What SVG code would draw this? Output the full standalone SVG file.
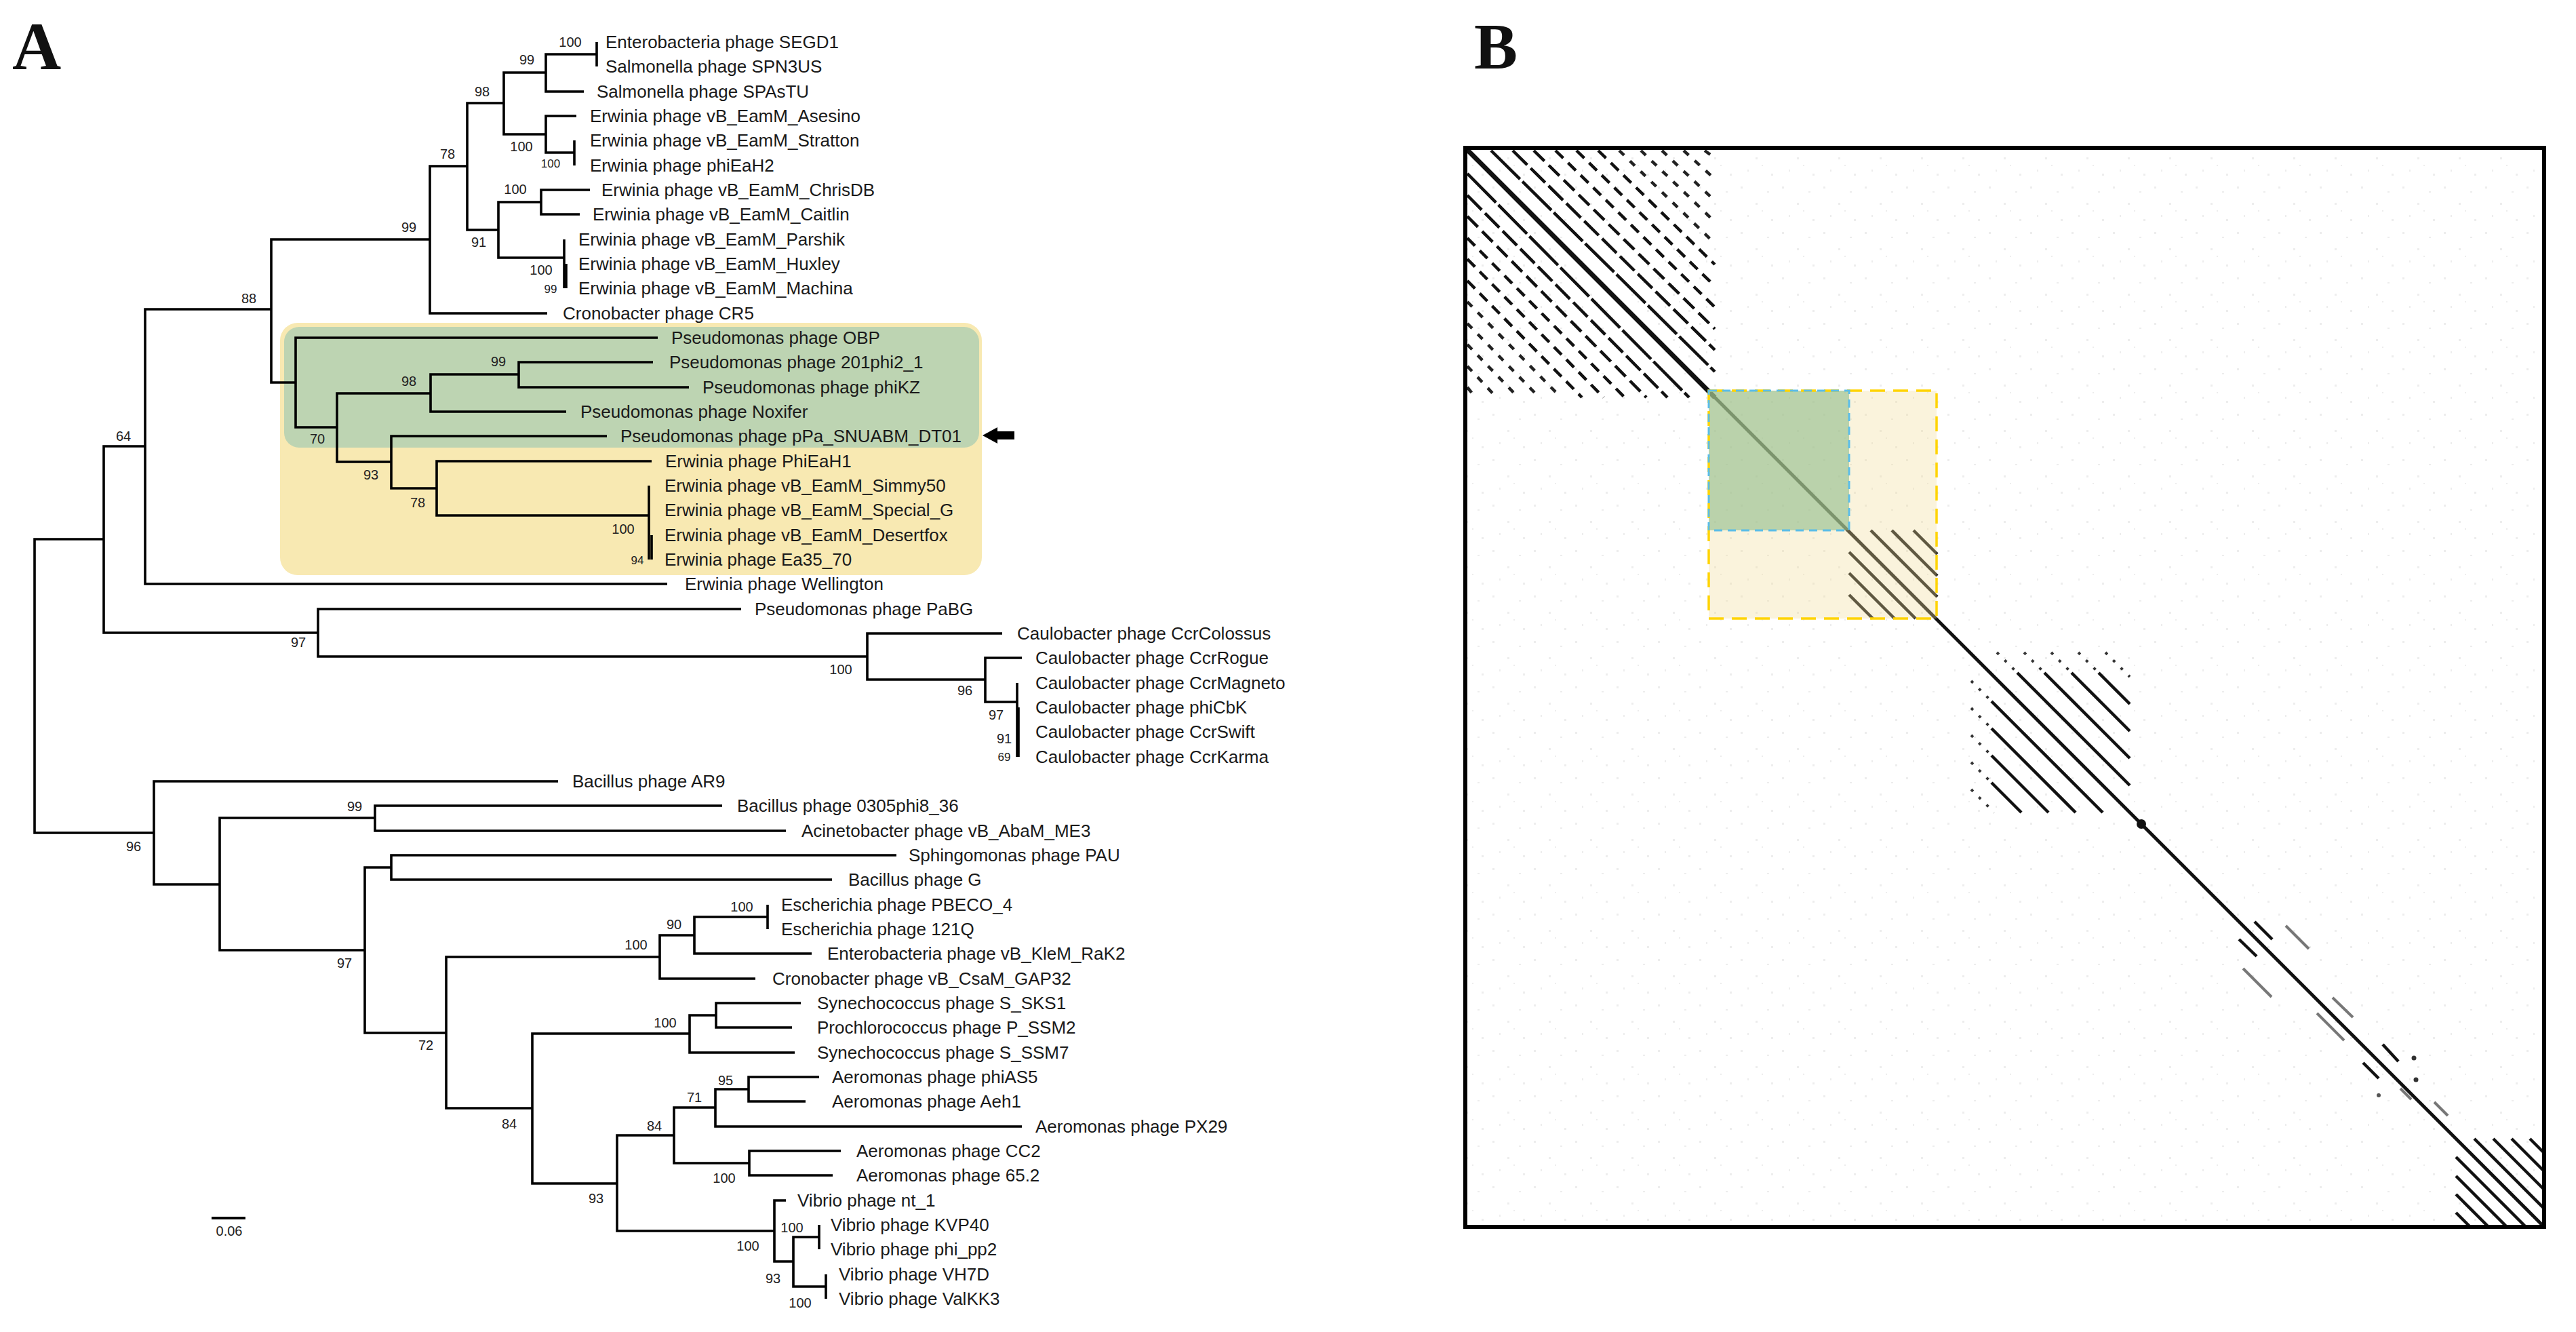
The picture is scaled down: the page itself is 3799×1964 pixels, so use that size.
<svg xmlns="http://www.w3.org/2000/svg" width="3799" height="1964" viewBox="0 0 3799 1964">
<style>
.br{stroke:#000;stroke-width:3.6;fill:none;stroke-linejoin:miter;stroke-linecap:butt}
.tx{font-family:"Liberation Sans",Arial,sans-serif;font-size:26px;fill:#1a1a1a}
.bs{font-family:"Liberation Sans",Arial,sans-serif;font-size:20px;fill:#222;text-anchor:middle}
.sm{font-size:17px}
.lbl{font-family:"Liberation Serif","Times New Roman",serif;font-weight:bold;font-size:100px;fill:#111}
.dp{stroke:#111;fill:none;stroke-width:4.5}
.k1{stroke-dasharray:60 5}
.k2{stroke-dasharray:30 7}
.k3{stroke-dasharray:22 9}
.k4{stroke-dasharray:16 10}
.k5{stroke-dasharray:10 12;stroke:#222}
.dot{stroke-dasharray:4 12;stroke:#333;stroke-width:4}
.fa{stroke:#777;stroke-width:4}
</style>
<defs>
<pattern id="spk" width="61" height="67" patternUnits="userSpaceOnUse">
<rect x="5" y="7" width="3" height="3" fill="#999"/>
<rect x="27" y="31" width="3" height="3" fill="#999"/>
<rect x="44" y="14" width="3" height="2" fill="#999"/>
<rect x="15" y="49" width="2" height="3" fill="#999"/>
<rect x="50" y="55" width="3" height="3" fill="#999"/>
<rect x="36" y="42" width="2" height="2" fill="#999"/>
</pattern>
</defs>
<rect width="3799" height="1964" fill="#fff"/>

<!-- Panel A -->
<text class="lbl" x="18" y="102">A</text>

<g id="highlight">
<rect x="413" y="476" width="1035" height="372" rx="26" fill="#F8E9B2"/>
<rect x="419" y="482" width="1025" height="178" rx="22" fill="#BDD4B2"/>
</g>

<g id="connectors">
<path class="br" d="M880,62 V98"/>
<path class="br" d="M880,80 H805 V135 H861"/>
<path class="br" d="M847,207 V244"/>
<path class="br" d="M850,171 H805 V225 H847"/>
<path class="br" d="M805,107 H743 V198 H805"/>
<path class="br" d="M870,280 H798 V316 H855"/>
<path class="br" d="M832,353 V425"/>
<path class="br" d="M835,389 V425"/>
<path class="br" d="M798,298 H735 V380 H832"/>
<path class="br" d="M743,152 H689 V339 H735"/>
<path class="br" d="M689,245 H634 V462 H807"/>
<path class="br" d="M634,353 H400 V564 H436"/>
<path class="br" d="M400,456 H214 V861 H984"/>
<path class="br" d="M963,534 H765 V571 H1016"/>
<path class="br" d="M765,552 H635 V607 H835"/>
<path class="br" d="M957,716 V825"/>
<path class="br" d="M961,789 V825"/>
<path class="br" d="M961,680 H644 V760 H957"/>
<path class="br" d="M895,643 H577 V720 H644"/>
<path class="br" d="M635,580 H497 V681 H577"/>
<path class="br" d="M970,498 H436 V630 H497"/>
<path class="br" d="M1500,1007 V1116"/>
<path class="br" d="M1502,1043 V1116"/>
<path class="br" d="M1507,970 H1453 V1035 H1500"/>
<path class="br" d="M1478,934 H1279 V1002 H1453"/>
<path class="br" d="M1093,898 H469 V968 H1279"/>
<path class="br" d="M214,658 H153 V933 H469"/>
<path class="br" d="M153,795 H51 V1228 H227"/>
<path class="br" d="M823,1152 H227 V1304 H324"/>
<path class="br" d="M553,1206 H324 V1401 H538"/>
<path class="br" d="M1065,1188 H553 V1225 H1159"/>
<path class="br" d="M577,1279 H538 V1523 H658"/>
<path class="br" d="M1322,1261 H577 V1297 H1227"/>
<path class="br" d="M973,1411 H658 V1634 H785"/>
<path class="br" d="M1024,1379 H973 V1443 H1114"/>
<path class="br" d="M1132,1352 H1024 V1406 H1197"/>
<path class="br" d="M1132,1334 V1370"/>
<path class="br" d="M1017,1524 H785 V1745 H910"/>
<path class="br" d="M1056,1497 H1017 V1552 H1172"/>
<path class="br" d="M1181,1479 H1056 V1515 H1168"/>
<path class="br" d="M994,1674 H910 V1815 H1142"/>
<path class="br" d="M1055,1633 H994 V1715 H1105"/>
<path class="br" d="M1104,1606 H1055 V1661 H1507"/>
<path class="br" d="M1208,1588 H1104 V1624 H1188"/>
<path class="br" d="M1240,1697 H1105 V1733 H1228"/>
<path class="br" d="M1159,1770 H1142 V1860 H1170"/>
<path class="br" d="M1208,1824 H1170 V1897 H1218"/>
<path class="br" d="M1208,1806 V1842"/>
<path class="br" d="M1218,1879 V1915"/>
<path class="br" d="M312,1796 H362" style="stroke-width:4"/>
</g>

<g id="taxa">
<g id="t01"><text class="tx" x="893" y="71">Enterobacteria phage SEGD1</text></g>
<g id="t02"><text class="tx" x="893" y="107">Salmonella phage SPN3US</text></g>
<g id="t03"><text class="tx" x="880" y="144">Salmonella phage SPAsTU</text></g>
<g id="t04"><text class="tx" x="870" y="180">Erwinia phage vB_EamM_Asesino</text></g>
<g id="t05"><text class="tx" x="870" y="216">Erwinia phage vB_EamM_Stratton</text></g>
<g id="t06"><text class="tx" x="870" y="253">Erwinia phage phiEaH2</text></g>
<g id="t07"><text class="tx" x="887" y="289">Erwinia phage vB_EamM_ChrisDB</text></g>
<g id="t08"><text class="tx" x="874" y="325">Erwinia phage vB_EamM_Caitlin</text></g>
<g id="t09"><text class="tx" x="853" y="362">Erwinia phage vB_EamM_Parshik</text></g>
<g id="t10"><text class="tx" x="853" y="398">Erwinia phage vB_EamM_Huxley</text></g>
<g id="t11"><text class="tx" x="853" y="434">Erwinia phage vB_EamM_Machina</text></g>
<g id="t12"><text class="tx" x="830" y="471">Cronobacter phage CR5</text></g>
<g id="t13"><text class="tx" x="990" y="507">Pseudomonas phage OBP</text></g>
<g id="t14"><text class="tx" x="987" y="543">Pseudomonas phage 201phi2_1</text></g>
<g id="t15"><text class="tx" x="1036" y="580">Pseudomonas phage phiKZ</text></g>
<g id="t16"><text class="tx" x="856" y="616">Pseudomonas phage Noxifer</text></g>
<g id="t17"><text class="tx" x="915" y="652">Pseudomonas phage pPa_SNUABM_DT01</text></g>
<g id="t18"><text class="tx" x="981" y="689">Erwinia phage PhiEaH1</text></g>
<g id="t19"><text class="tx" x="980" y="725">Erwinia phage vB_EamM_Simmy50</text></g>
<g id="t20"><text class="tx" x="980" y="761">Erwinia phage vB_EamM_Special_G</text></g>
<g id="t21"><text class="tx" x="980" y="798">Erwinia phage vB_EamM_Desertfox</text></g>
<g id="t22"><text class="tx" x="980" y="834">Erwinia phage Ea35_70</text></g>
<g id="t23"><text class="tx" x="1010" y="870">Erwinia phage Wellington</text></g>
<g id="t24"><text class="tx" x="1113" y="907">Pseudomonas phage PaBG</text></g>
<g id="t25"><text class="tx" x="1500" y="943">Caulobacter phage CcrColossus</text></g>
<g id="t26"><text class="tx" x="1527" y="979">Caulobacter phage CcrRogue</text></g>
<g id="t27"><text class="tx" x="1527" y="1016">Caulobacter phage CcrMagneto</text></g>
<g id="t28"><text class="tx" x="1527" y="1052">Caulobacter phage phiCbK</text></g>
<g id="t29"><text class="tx" x="1527" y="1088">Caulobacter phage CcrSwift</text></g>
<g id="t30"><text class="tx" x="1527" y="1125">Caulobacter phage CcrKarma</text></g>
<g id="t31"><text class="tx" x="844" y="1161">Bacillus phage AR9</text></g>
<g id="t32"><text class="tx" x="1087" y="1197">Bacillus phage 0305phi8_36</text></g>
<g id="t33"><text class="tx" x="1182" y="1234">Acinetobacter phage vB_AbaM_ME3</text></g>
<g id="t34"><text class="tx" x="1340" y="1270">Sphingomonas phage PAU</text></g>
<g id="t35"><text class="tx" x="1251" y="1306">Bacillus phage G</text></g>
<g id="t36"><text class="tx" x="1152" y="1343">Escherichia phage PBECO_4</text></g>
<g id="t37"><text class="tx" x="1152" y="1379">Escherichia phage 121Q</text></g>
<g id="t38"><text class="tx" x="1220" y="1415">Enterobacteria phage vB_KleM_RaK2</text></g>
<g id="t39"><text class="tx" x="1139" y="1452">Cronobacter phage vB_CsaM_GAP32</text></g>
<g id="t40"><text class="tx" x="1205" y="1488">Synechococcus phage S_SKS1</text></g>
<g id="t41"><text class="tx" x="1205" y="1524">Prochlorococcus phage P_SSM2</text></g>
<g id="t42"><text class="tx" x="1205" y="1561">Synechococcus phage S_SSM7</text></g>
<g id="t43"><text class="tx" x="1227" y="1597">Aeromonas phage phiAS5</text></g>
<g id="t44"><text class="tx" x="1227" y="1633">Aeromonas phage Aeh1</text></g>
<g id="t45"><text class="tx" x="1527" y="1670">Aeromonas phage PX29</text></g>
<g id="t46"><text class="tx" x="1263" y="1706">Aeromonas phage CC2</text></g>
<g id="t47"><text class="tx" x="1263" y="1742">Aeromonas phage 65.2</text></g>
<g id="t48"><text class="tx" x="1176" y="1779">Vibrio phage nt_1</text></g>
<g id="t49"><text class="tx" x="1225" y="1815">Vibrio phage KVP40</text></g>
<g id="t50"><text class="tx" x="1225" y="1851">Vibrio phage phi_pp2</text></g>
<g id="t51"><text class="tx" x="1237" y="1888">Vibrio phage VH7D</text></g>
<g id="t52"><text class="tx" x="1237" y="1924">Vibrio phage ValKK3</text></g>
</g>

<g id="arrow">
<polygon points="1449,642 1471,630 1471,636 1496,636 1496,648 1471,648 1471,654" fill="#000"/>
</g>

<g id="bootstrap">
<text class="bs" x="841" y="69">100</text>
<text class="bs" x="777" y="95">99</text>
<text class="bs" x="711" y="142">98</text>
<text class="bs" x="769" y="223">100</text>
<text class="bs sm" x="812" y="247">100</text>
<text class="bs" x="660" y="234">78</text>
<text class="bs" x="760" y="286">100</text>
<text class="bs" x="706" y="364">91</text>
<text class="bs" x="798" y="405">100</text>
<text class="bs sm" x="812" y="432">99</text>
<text class="bs" x="603" y="342">99</text>
<text class="bs" x="367" y="447">88</text>
<text class="bs" x="182" y="650">64</text>
<text class="bs" x="468" y="654">70</text>
<text class="bs" x="603" y="569">98</text>
<text class="bs" x="735" y="540">99</text>
<text class="bs" x="547" y="707">93</text>
<text class="bs" x="616" y="748">78</text>
<text class="bs" x="919" y="787">100</text>
<text class="bs sm" x="940" y="832">94</text>
<text class="bs" x="440" y="954">97</text>
<text class="bs" x="1240" y="994">100</text>
<text class="bs" x="1423" y="1025">96</text>
<text class="bs" x="1469" y="1061">97</text>
<text class="bs" x="1481" y="1096">91</text>
<text class="bs sm" x="1481" y="1122">69</text>
<text class="bs" x="197" y="1255">96</text>
<text class="bs" x="523" y="1196">99</text>
<text class="bs" x="508" y="1427">97</text>
<text class="bs" x="628" y="1548">72</text>
<text class="bs" x="1094" y="1344">100</text>
<text class="bs" x="994" y="1370">90</text>
<text class="bs" x="938" y="1400">100</text>
<text class="bs" x="981" y="1515">100</text>
<text class="bs" x="751" y="1664">84</text>
<text class="bs" x="965" y="1667">84</text>
<text class="bs" x="1024" y="1625">71</text>
<text class="bs" x="1070" y="1600">95</text>
<text class="bs" x="1068" y="1744">100</text>
<text class="bs" x="879" y="1774">93</text>
<text class="bs" x="1103" y="1844">100</text>
<text class="bs" x="1140" y="1892">93</text>
<text class="bs" x="1168" y="1817">100</text>
<text class="bs" x="1180" y="1928">100</text>
<text class="bs" x="338" y="1822">0.06</text>
</g>

<!-- Panel B -->
<text class="lbl" x="2174" y="101" style="font-size:96px">B</text>

<rect x="2161" y="218" width="1591" height="1591" fill="url(#spk)" opacity="0.18"/>

<g id="block1">
<line class="dp k1" x1="2199" y1="222" x2="2529" y2="548"/>
<line class="dp k1" x1="2164" y1="256" x2="2491" y2="586"/>
<line class="dp k2" x1="2231" y1="222" x2="2529" y2="516"/>
<line class="dp k2" x1="2164" y1="288" x2="2459" y2="586"/>
<line class="dp k3" x1="2262" y1="222" x2="2529" y2="485"/>
<line class="dp k3" x1="2164" y1="319" x2="2428" y2="586"/>
<line class="dp k4" x1="2294" y1="222" x2="2529" y2="453"/>
<line class="dp k4" x1="2164" y1="351" x2="2396" y2="586"/>
<line class="dp k4" x1="2325" y1="222" x2="2529" y2="422"/>
<line class="dp k4" x1="2164" y1="382" x2="2365" y2="586"/>
<line class="dp k4" x1="2357" y1="222" x2="2529" y2="390"/>
<line class="dp k4" x1="2164" y1="414" x2="2333" y2="586"/>
<line class="dp k5" x1="2388" y1="222" x2="2529" y2="359"/>
<line class="dp k5" x1="2164" y1="445" x2="2302" y2="586"/>
<line class="dp k5" x1="2420" y1="222" x2="2529" y2="327"/>
<line class="dp k5" x1="2164" y1="477" x2="2270" y2="586"/>
<line class="dp k5" x1="2451" y1="222" x2="2529" y2="296"/>
<line class="dp k5" x1="2164" y1="508" x2="2239" y2="586"/>
<line class="dp k5" x1="2483" y1="222" x2="2529" y2="264"/>
<line class="dp k5" x1="2164" y1="540" x2="2207" y2="586"/>
<line class="dp k5" x1="2514" y1="222" x2="2529" y2="233"/>
<line class="dp k5" x1="2164" y1="571" x2="2176" y2="586"/>
</g>

<g id="block2">
<line class="dp" x1="2759" y1="782" x2="2857" y2="880"/>
<line class="dp" x1="2790" y1="782" x2="2857" y2="849"/>
<line class="dp" x1="2822" y1="782" x2="2857" y2="817"/>
<line class="dp" x1="2727" y1="814" x2="2825" y2="912"/>
<line class="dp" x1="2727" y1="845" x2="2794" y2="912"/>
<line class="dp" x1="2727" y1="877" x2="2762" y2="912"/>
</g>

<g id="block3">
<line class="dp" x1="2975" y1="992" x2="3141" y2="1158"/>
<line class="dp" x1="3015" y1="992" x2="3141" y2="1118"/>
<line class="dp" x1="3055" y1="992" x2="3141" y2="1078"/>
<line class="dp" x1="3095" y1="992" x2="3141" y2="1038"/>
<line class="dp" x1="2937" y1="1034" x2="3101" y2="1198"/>
<line class="dp" x1="2937" y1="1074" x2="3061" y2="1198"/>
<line class="dp" x1="2937" y1="1114" x2="3021" y2="1198"/>
<line class="dp" x1="2937" y1="1154" x2="2981" y2="1198"/>
<line class="dot" x1="2945" y1="962" x2="2975" y2="992"/>
<line class="dot" x1="2985" y1="962" x2="3015" y2="992"/>
<line class="dot" x1="3025" y1="962" x2="3055" y2="992"/>
<line class="dot" x1="3065" y1="962" x2="3095" y2="992"/>
<line class="dot" x1="3105" y1="962" x2="3141" y2="998"/>
<line class="dot" x1="2907" y1="1004" x2="2937" y2="1034"/>
<line class="dot" x1="2907" y1="1044" x2="2937" y2="1074"/>
<line class="dot" x1="2907" y1="1084" x2="2937" y2="1114"/>
<line class="dot" x1="2907" y1="1124" x2="2937" y2="1154"/>
<line class="dot" x1="2907" y1="1164" x2="2941" y2="1198"/>
</g>

<g id="clusters">
<line class="dp" x1="3325" y1="1359" x2="3351" y2="1385"/>
<line class="dp" x1="3302" y1="1385" x2="3328" y2="1410"/>
<line class="dp fa" x1="3371" y1="1365" x2="3405" y2="1399"/>
<line class="dp fa" x1="3308" y1="1428" x2="3350" y2="1470"/>
<line class="dp fa" x1="3440" y1="1471" x2="3470" y2="1500"/>
<line class="dp fa" x1="3417" y1="1494" x2="3457" y2="1534"/>
<line class="dp" x1="3514" y1="1540" x2="3537" y2="1565"/>
<line class="dp" x1="3485" y1="1567" x2="3508" y2="1590"/>
<line class="dp fa" x1="3540" y1="1605" x2="3556" y2="1621"/>
<line class="dp fa" x1="3590" y1="1625" x2="3610" y2="1645"/>
<circle cx="3560" cy="1560" r="3.5" fill="#333"/>
<circle cx="3563" cy="1592" r="3.5" fill="#333"/>
<circle cx="3508" cy="1615" r="3" fill="#555"/>
<circle cx="3158" cy="1215" r="7" fill="#111"/>
</g>

<g id="block4">
<line class="dp" x1="3649" y1="1679" x2="3752" y2="1782"/>
<line class="dp" x1="3677" y1="1679" x2="3752" y2="1754"/>
<line class="dp" x1="3704" y1="1679" x2="3752" y2="1727"/>
<line class="dp" x1="3731" y1="1679" x2="3752" y2="1700"/>
<line class="dp" x1="3622" y1="1706" x2="3725" y2="1809"/>
<line class="dp" x1="3622" y1="1734" x2="3697" y2="1809"/>
<line class="dp" x1="3622" y1="1761" x2="3670" y2="1809"/>
<line class="dp" x1="3622" y1="1788" x2="3643" y2="1809"/>
</g>

<line x1="2161" y1="218" x2="3752" y2="1809" stroke="#111" stroke-width="5"/>
<line x1="2161" y1="218" x2="2529" y2="586" stroke="#111" stroke-width="7"/>

<g id="highlightB">
<rect x="2520" y="576" width="336" height="336" fill="#F2DC9A" fill-opacity="0.35"/>
<rect x="2520" y="576" width="207" height="206" fill="#8FBC8A" fill-opacity="0.6"/>
<rect x="2520" y="576" width="336" height="336" fill="none" stroke="#FFD400" stroke-width="3.5" stroke-dasharray="22 12"/>
<rect x="2520" y="576" width="207" height="206" fill="none" stroke="#5BBDE8" stroke-width="3" stroke-dasharray="12 8"/>
</g>

<rect x="2161" y="218" width="1591" height="1591" fill="none" stroke="#000" stroke-width="6"/>
</svg>
